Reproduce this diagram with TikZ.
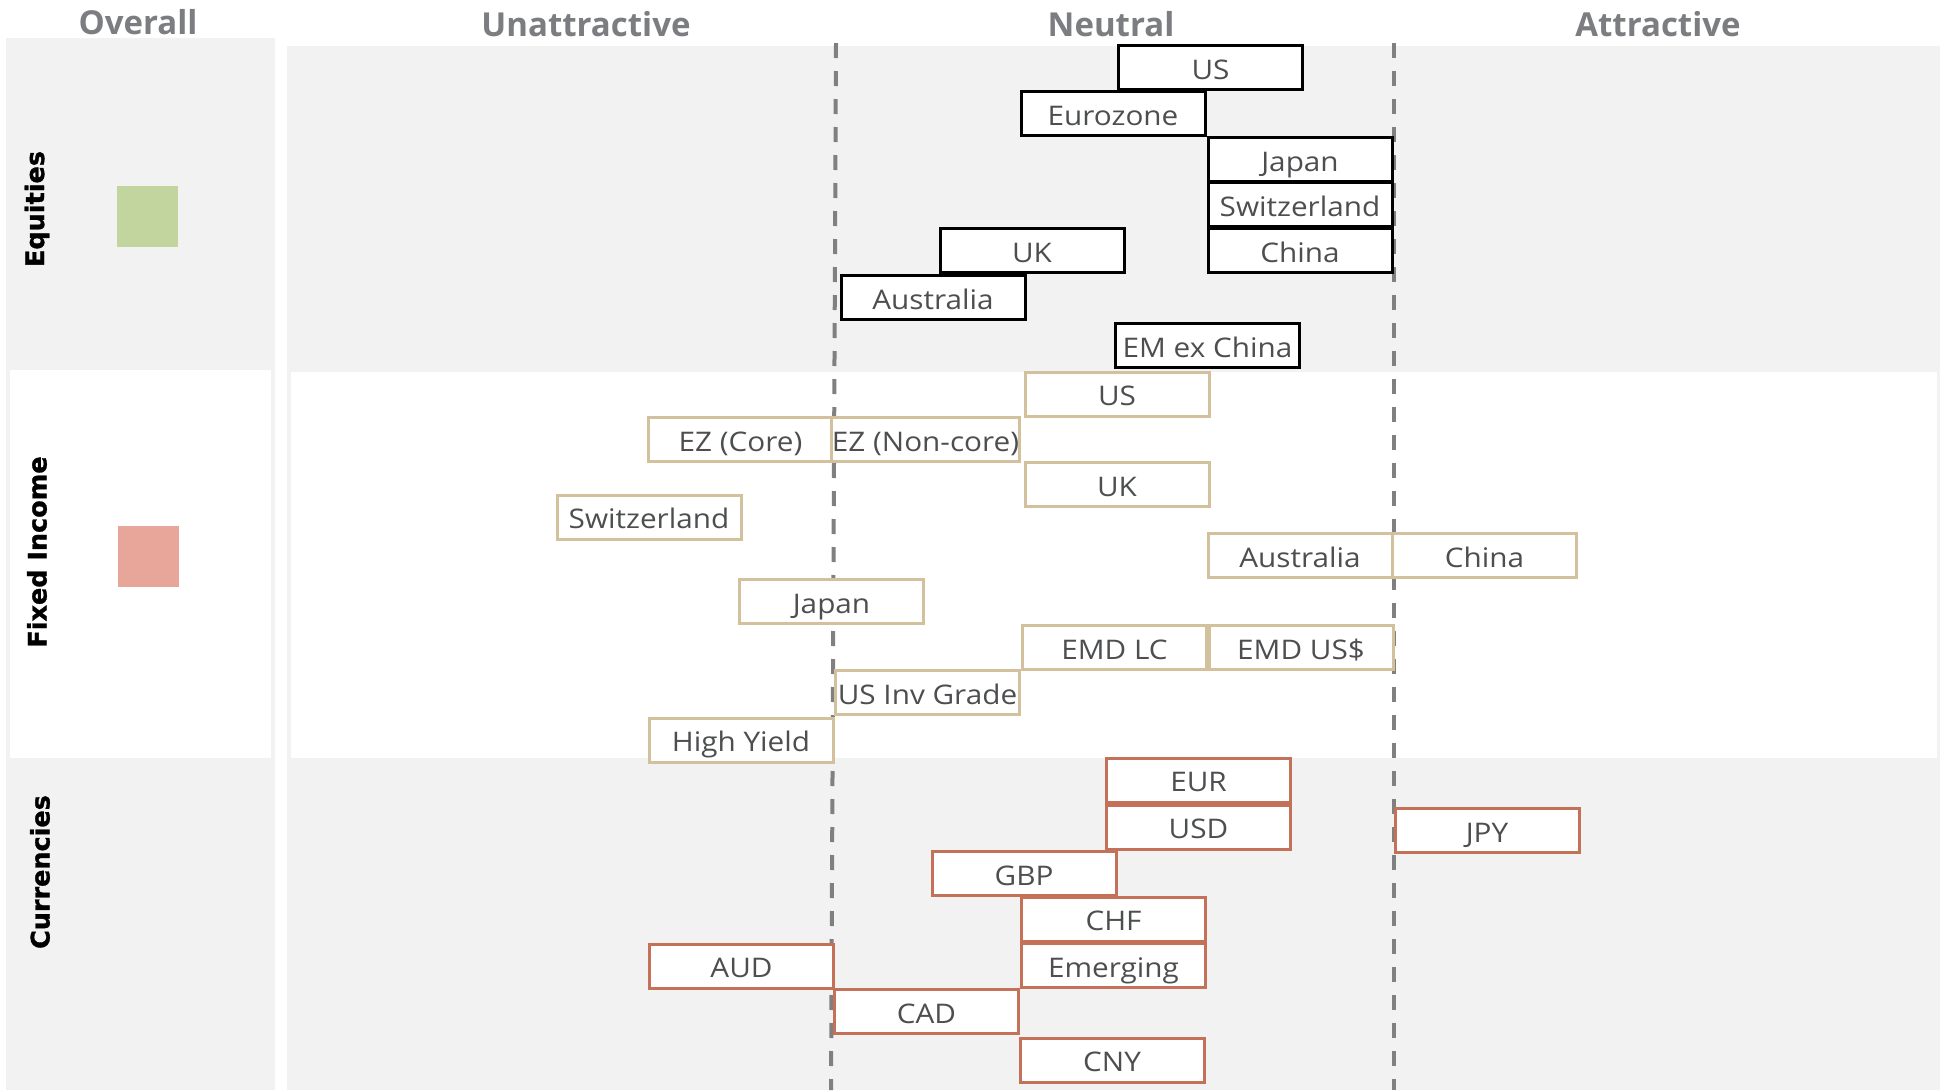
\documentclass[tikz,border=0pt]{standalone}
\usepackage{fontspec}
\setmainfont{Open Sans}
\newfontfamily\boxfont[FakeStretch=1.1]{Open Sans}
\newfontfamily\labfont[FakeBold=1.2]{DejaVu Sans Bold}
\definecolor{bggray}{HTML}{F2F2F2}
\definecolor{hdrgray}{HTML}{7B7D81}
\definecolor{txtgray}{HTML}{4D4E50}
\definecolor{dashgray}{HTML}{808080}
\definecolor{tanline}{HTML}{D3C09C}
\definecolor{rustline}{HTML}{C4715A}
\definecolor{eqgreen}{HTML}{C3D59E}
\definecolor{fipink}{HTML}{E8A69A}
\tikzset{
  hdr/.style={font=\fontsize{33}{38}\selectfont\bfseries, text=hdrgray, inner sep=0pt},
  rowlab/.style={font=\labfont\fontsize{25.5}{30}\selectfont, text=black, rotate=90, inner sep=0pt},
  sq/.style={minimum width=61pt, minimum height=61pt, inner sep=0pt},
  box/.style={draw, fill=white, line width=3pt, minimum width=184pt, minimum height=44pt, inner sep=0pt,
    text height=23pt, text depth=0pt,
    font=\boxfont\fontsize{27}{32}\selectfont, text=txtgray},
  eqbox/.style={box, draw=black},
  fibox/.style={box, draw=tanline},
  cubox/.style={box, draw=rustline},
  dashline/.style={draw=dashgray, line width=4pt, dash pattern=on 15pt off 13pt}
}
\begin{document}
\begin{tikzpicture}[x=1pt,y=-1pt]
\useasboundingbox (0,0) rectangle (1946,1090);
\fill[white] (0,0) rectangle (1946,1090);
% panels
\fill[bggray] (6,38) rectangle (275,1090);
\fill[white] (10,370) rectangle (271,758);
\fill[bggray] (287,46) rectangle (1940,1090);
\fill[white] (291,372) rectangle (1937,758);
% dashed separators
\draw[dashline] (836,43) -- (831,1090);
\draw[dashline] (1394,43) -- (1394,1090);
% headers
\node[hdr] (hOverall) at (138,22) {Overall};
\node[hdr] (hUnatt) at (586,24) {Unattractive};
\node[hdr] (hNeutral) at (1111,24) {Neutral};
\node[hdr] (hAtt) at (1658,24) {Attractive};
% row labels
\node[rowlab] (lEq) at (37,209) {Equities};
\node[rowlab] (lFi) at (37,552) {Fixed Income};
\node[rowlab] (lCu) at (40,872) {Currencies};
% overall squares
\node[sq, fill=eqgreen] (sqEq) at (147.5,216.5) {};
\node[sq, fill=fipink] (sqFi) at (148,556.5) {};
% equities
\node[eqbox] (eUS) at (1210.5,67.5) {US};
\node[eqbox] (eEZ) at (1113,113.5) {Eurozone};
\node[eqbox] (eJP) at (1300,159.5) {Japan};
\node[eqbox] (eCH) at (1300,204.5) {Switzerland};
\node[eqbox] (eCN) at (1300,250.5) {China};
\node[eqbox] (eUK) at (1032,250.5) {UK};
\node[eqbox] (eAU) at (933,297.5) {Australia};
\node[eqbox] (eEM) at (1207.5,345.5) {EM ex China};
% fixed income
\node[fibox] (fUS) at (1117,394) {US};
\node[fibox] (fEZC) at (740.5,439.5) {EZ (Core)};
\node[fibox] (fEZN) at (925.5,439.5) {EZ (Non-core)};
\node[fibox] (fUK) at (1117,484.5) {UK};
\node[fibox] (fSW) at (649,517) {Switzerland};
\node[fibox] (fAU) at (1300,555.5) {Australia};
\node[fibox] (fCN) at (1484.5,555.5) {China};
\node[fibox] (fJP) at (831.5,601.5) {Japan};
\node[fibox] (fLC) at (1114.5,647.5) {EMD LC};
\node[fibox] (fUSD) at (1301,647.5) {EMD US\$};
\node[fibox] (fIG) at (927.5,692.5) {US Inv Grade};
\node[fibox] (fHY) at (741,740) {High Yield};
% currencies
\node[cubox] (cEUR) at (1198.5,780) {EUR};
\node[cubox] (cUSD) at (1198.5,827) {USD};
\node[cubox] (cJPY) at (1487,830.5) {JPY};
\node[cubox] (cGBP) at (1024,873.5) {GBP};
\node[cubox] (cCHF) at (1113.5,919) {CHF};
\node[cubox] (cEM) at (1113.5,965.5) {Emerging};
\node[cubox] (cAUD) at (741.5,966) {AUD};
\node[cubox] (cCAD) at (926.5,1011.5) {CAD};
\node[cubox] (cCNY) at (1112,1060) {CNY};
\end{tikzpicture}
\end{document}
